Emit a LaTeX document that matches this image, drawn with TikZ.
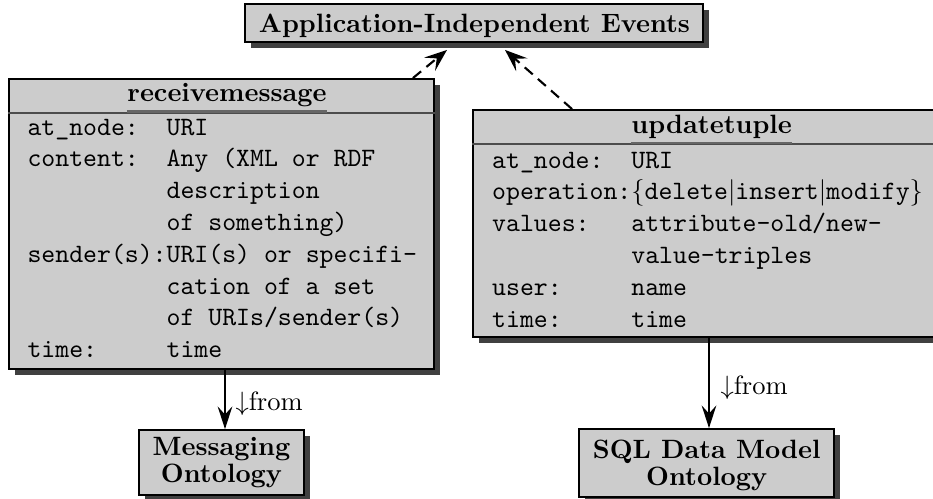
\documentclass[tikz,border=0pt]{standalone}
\usetikzlibrary{shadows,fit,calc,arrows.meta}

\definecolor{boxfill}{gray}{0.8}
\definecolor{boxshade}{gray}{0.25}

\tikzset{
  shadowbox/.style={draw=black, line width=0.7pt, fill=boxfill, inner sep=0pt,
    drop shadow={shadow xshift=2.4pt, shadow yshift=-2.4pt, fill=boxshade, opacity=1}},
  headtext/.style={font=\bfseries, inner sep=0pt, anchor=base},
  fieldtext/.style={font=\ttfamily, inner sep=0pt, anchor=base west},
  sepline/.style={draw=black!70, line width=0.7pt},
  uline/.style={draw=black!60, line width=0.8pt},
  tip/.style={-{Stealth[length=8.5pt,width=5.5pt,inset=3pt]}, line width=0.75pt},
  dasharrow/.style={-{Stealth[length=8.5pt,width=6.5pt,inset=3.5pt]}, line width=0.8pt,
    dash pattern=on 4pt off 2.6pt},
  fromlabel/.style={inner sep=0pt, anchor=base west},
}

\begin{document}
\begin{tikzpicture}[x=0.37736pt, y=-0.37736pt]
\useasboundingbox (0,0) rectangle (933,498);
\clip (0,0) rectangle (933,498);

% common event class
\node[shadowbox, fit={(245,4) (703,42)}] (ev) {};
\node[headtext] (evt) at (474.5,32) {Application-Independent Events};

% receivemessage event type
\node[shadowbox, fit={(9,79) (434,369)}] (rm) {};
\coordinate (rmsep) at (0,113);
\draw[sepline] (rm.west |- rmsep) -- (rm.east |- rmsep);
\node[headtext] (rmt) at (227,101.7) {receivemessage};
\draw[uline] ([yshift=-1.5pt]rmt.south west) -- ([yshift=-1.5pt]rmt.south east);
\node[fieldtext] (rmb) at (27,135) {\begin{tabular}[t]{@{}l@{}l@{}}
at\_node:   & URI\\
content:    & Any (XML or RDF\\
            & description\\
            & of something)\\
sender(s):  & URI(s) or specifi-\\
            & cation of a set\\
            & of URIs/sender(s)\\
time:       & time
\end{tabular}};

% updatetuple event type
\node[shadowbox, fit={(473,110) (950,337)}] (ut) {};
\coordinate (utsep) at (0,144);
\draw[sepline] (ut.west |- utsep) -- (ut.east |- utsep);
\node[headtext] (utt) at (711.7,133) {updatetuple};
\draw[uline] ([yshift=-1.5pt]utt.south west) -- ([yshift=-1.5pt]utt.south east);
\node[fieldtext] (utb) at (491.7,168) {\begin{tabular}[t]{@{}l@{}l@{}}
at\_node:   & URI\\
operation:  & $\{$delete$|$insert$|$modify$\}$\\
values:     & attribute-old/new-\\
            & value-triples\\
user:       & name\\
time:       & time
\end{tabular}};

% ontologies
\node[shadowbox, fit={(139,430) (304,495)}] (mo) {};
\node[headtext] (mo1) at (221.5,455) {Messaging};
\node[headtext] (mo2) at (221.5,482) {Ontology};

\node[shadowbox, fit={(579,429) (834,497)}] (sq) {};
\node[headtext] (sq1) at (706.7,458) {SQL Data Model};
\node[headtext] (sq2) at (706.7,485) {Ontology};

% generalisation
\draw[dasharrow] ($(rm.north east)+(-22,0)$) -- ($(ev.south)+(-27,7)$);
\draw[dasharrow] ($(ut.north west)+(100,0)$) -- ($(ev.south)+(31,7)$);

% origin of the event types
\draw[tip] ($(rm.south)+(3.5,0)$) -- ($(mo.north)+(3.5,0)$);
\node[fromlabel] (fr1) at (235,410) {$\downarrow$from};
\draw[tip] ($(ut.south)+(-2.5,0)$) -- ($(sq.north)+(2.5,0)$);
\node[fromlabel] (fr2) at (720,394) {$\downarrow$from};
\end{tikzpicture}
\end{document}
